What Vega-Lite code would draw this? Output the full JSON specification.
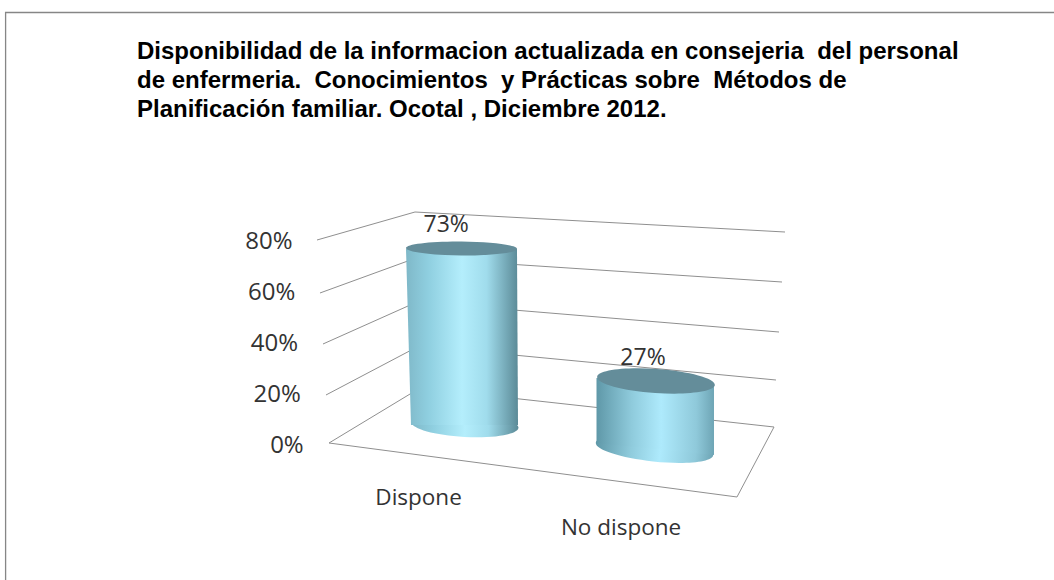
{
  "$schema": "https://vega.github.io/schema/vega-lite/v6.json",
  "width": 1054,
  "height": 580,
  "autosize": {"type": "none"},
  "padding": 0,
  "background": "white",
  "config": {"view": {"stroke": null}},
  "title": {
    "text": [
      "Disponibilidad de la informacion actualizada en consejeria\u00a0 del personal",
      "de enfermeria.\u00a0 Conocimientos\u00a0 y Prácticas sobre\u00a0 Métodos de",
      "Planificación familiar. Ocotal , Diciembre 2012."
    ],
    "anchor": "start",
    "frame": "group",
    "baseline": "alphabetic",
    "font": "Liberation Sans",
    "fontSize": 24,
    "fontWeight": "bold",
    "color": "#000000",
    "lineHeight": 29,
    "offset": 0,
    "dx": 137,
    "dy": 141
  },
  "datasets": {
    "marco": [
      {"o": 1, "px": -72.9, "py": -52.94},
      {"o": 2, "px": -72.9, "py": 169.6},
      {"o": 3, "px": 162.7, "py": 169.6}
    ],
    "reticula": [
      {"serie": "80%", "o": 1, "px": -2.92, "py": 80.39},
      {"serie": "80%", "o": 2, "px": 19.1, "py": 91.37},
      {"serie": "80%", "o": 3, "px": 102.25, "py": 83.53},
      {"serie": "60%", "o": 1, "px": -2.25, "py": 59.61},
      {"serie": "60%", "o": 2, "px": 19.33, "py": 73.33},
      {"serie": "60%", "o": 3, "px": 101.57, "py": 63.92},
      {"serie": "40%", "o": 1, "px": -1.57, "py": 39.61},
      {"serie": "40%", "o": 2, "px": 19.55, "py": 56.08},
      {"serie": "40%", "o": 3, "px": 100.9, "py": 44.31},
      {"serie": "20%", "o": 1, "px": -0.9, "py": 19.61},
      {"serie": "20%", "o": 2, "px": 20, "py": 38.82},
      {"serie": "20%", "o": 3, "px": 100.22, "py": 25.49},
      {"serie": "0%", "o": 1, "px": -0.22, "py": 0.78},
      {"serie": "0%", "o": 2, "px": 20.22, "py": 22.35},
      {"serie": "0%", "o": 3, "px": 99.78, "py": 7.06},
      {"serie": "0%", "o": 4, "px": 91.46, "py": -20.39},
      {"serie": "0%", "o": 5, "px": -0.22, "py": 0.78}
    ],
    "cuerpo_dispone": [
      {"py": 76.86, "izq": 17.08, "der": 42.02},
      {"py": 7.84, "izq": 18.2, "der": 42.25}
    ],
    "cuerpo_no": [
      {"px": 59.89, "arriba": 26.27, "abajo": 0.78},
      {"px": 86.29, "arriba": 23.14, "abajo": -3.92}
    ],
    "etiquetas": [
      {"categoria": "Dispone", "valor": 0.73, "vx": 26.1, "vy": 86.3, "cx": 19.9, "cy": -20.6},
      {"categoria": "No dispone", "valor": 0.27, "vx": 70.34, "vy": 34.3, "cx": 65.4, "cy": -32.5}
    ]
  },
  "layer": [
    {
      "data": {"name": "marco"},
      "mark": {"type": "line", "stroke": "#868686", "strokeWidth": 1.3},
      "encoding": {
        "x": {"field": "px", "type": "quantitative", "scale": {"domain": [-74.157, 162.697], "nice": false, "zero": false}, "axis": null},
        "y": {
          "field": "py",
          "type": "quantitative",
          "scale": {"domain": [-52.94, 174.51], "nice": false, "zero": false},
          "axis": {
            "values": [0, 20, 40, 60, 80],
            "labelExpr": "datum.value + '%'",
            "title": null,
            "domain": false,
            "ticks": false,
            "grid": false,
            "labelFont": "Open Sans",
            "labelFontSize": 24,
            "labelColor": "#333333",
            "labelPadding": 0,
            "offset": -292,
            "encoding": {"labels": {"dx": {"value": {"expr": "(80 - datum.value) * 0.14"}}}}
          }
        },
        "order": {"field": "o", "type": "quantitative"}
      }
    },
    {
      "data": {"name": "reticula"},
      "mark": {"type": "line", "stroke": "#8f8f8f", "strokeWidth": 1},
      "encoding": {
        "x": {"field": "px", "type": "quantitative"},
        "y": {"field": "py", "type": "quantitative"},
        "detail": {"field": "serie"},
        "order": {"field": "o", "type": "quantitative"}
      }
    },
    {
      "data": {"values": [{"categoria": "Dispone", "px": 30.34, "py": 7.84}]},
      "mark": {
        "type": "point", "filled": true, "opacity": 1, "strokeWidth": 0, "size": 11449, "angle": 3,
        "shape": "M-1,0A1,0.224,0,1,1,1,0A1,0.224,0,1,1,-1,0Z",
        "fill": {"gradient": "linear", "x1": 0, "x2": 1, "y1": 0, "y2": 0, "stops": [
          {"offset": 0, "color": "#7fb8c8"}, {"offset": 0.2, "color": "#8fcfe0"}, {"offset": 0.5, "color": "#b4eefc"}, {"offset": 0.72, "color": "#a0dcec"}, {"offset": 1, "color": "#5b8a97"}
        ]}
      },
      "encoding": {"x": {"field": "px", "type": "quantitative"}, "y": {"field": "py", "type": "quantitative"}}
    },
    {
      "data": {"name": "cuerpo_dispone"},
      "mark": {
        "type": "area", "orient": "horizontal", "opacity": 1,
        "fill": {"gradient": "linear", "x1": 0, "x2": 1, "y1": 0, "y2": 0, "stops": [
          {"offset": 0, "color": "#7fb8c8"}, {"offset": 0.2, "color": "#8fcfe0"}, {"offset": 0.5, "color": "#b4eefc"}, {"offset": 0.72, "color": "#a0dcec"}, {"offset": 1, "color": "#5b8a97"}
        ]}
      },
      "encoding": {
        "y": {"field": "py", "type": "quantitative"},
        "x": {"field": "izq", "type": "quantitative"},
        "x2": {"field": "der"}
      }
    },
    {
      "data": {"values": [{"categoria": "Dispone", "px": 29.55, "py": 77.06}]},
      "mark": {
        "type": "point", "filled": true, "opacity": 1, "strokeWidth": 0, "size": 12321, "angle": 0.5, "fill": "#648d9a",
        "shape": "M-1,0A1,0.126,0,1,1,1,0A1,0.126,0,1,1,-1,0Z"
      },
      "encoding": {"x": {"field": "px", "type": "quantitative"}, "y": {"field": "py", "type": "quantitative"}}
    },
    {
      "data": {"values": [{"categoria": "No dispone", "px": 72.92, "py": -1.57}]},
      "mark": {
        "type": "point", "filled": true, "opacity": 1, "strokeWidth": 0, "size": 13924, "angle": 6,
        "shape": "M-1,0A1,0.212,0,1,1,1,0A1,0.212,0,1,1,-1,0Z",
        "fill": {"gradient": "linear", "x1": 0, "x2": 1, "y1": 0, "y2": 0, "stops": [
          {"offset": 0, "color": "#5f98a8"}, {"offset": 0.3, "color": "#8fcbdc"}, {"offset": 0.55, "color": "#aeeafc"}, {"offset": 0.85, "color": "#8fc9da"}, {"offset": 1, "color": "#6ea5b5"}
        ]}
      },
      "encoding": {"x": {"field": "px", "type": "quantitative"}, "y": {"field": "py", "type": "quantitative"}}
    },
    {
      "data": {"name": "cuerpo_no"},
      "mark": {
        "type": "area", "orient": "vertical", "opacity": 1,
        "fill": {"gradient": "linear", "x1": 0, "x2": 1, "y1": 0, "y2": 0, "stops": [
          {"offset": 0, "color": "#5f98a8"}, {"offset": 0.3, "color": "#8fcbdc"}, {"offset": 0.55, "color": "#aeeafc"}, {"offset": 0.85, "color": "#8fc9da"}, {"offset": 1, "color": "#6ea5b5"}
        ]}
      },
      "encoding": {
        "x": {"field": "px", "type": "quantitative"},
        "y": {"field": "arriba", "type": "quantitative"},
        "y2": {"field": "abajo"}
      }
    },
    {
      "data": {"values": [{"categoria": "No dispone", "px": 73.26, "py": 25.1}]},
      "mark": {
        "type": "point", "filled": true, "opacity": 1, "strokeWidth": 0, "size": 13924, "angle": 4, "fill": "#648d9a",
        "shape": "M-1,0A1,0.203,0,1,1,1,0A1,0.203,0,1,1,-1,0Z"
      },
      "encoding": {"x": {"field": "px", "type": "quantitative"}, "y": {"field": "py", "type": "quantitative"}}
    },
    {
      "data": {"name": "etiquetas"},
      "mark": {"type": "text", "font": "Open Sans", "fontSize": 23, "color": "#333333", "align": "center", "baseline": "middle"},
      "encoding": {
        "x": {"field": "vx", "type": "quantitative"},
        "y": {"field": "vy", "type": "quantitative"},
        "text": {"field": "valor", "type": "quantitative", "format": ".0%"}
      }
    },
    {
      "data": {"name": "etiquetas"},
      "mark": {"type": "text", "font": "Open Sans", "fontSize": 22.5, "color": "#333333", "align": "center", "baseline": "middle"},
      "encoding": {
        "x": {"field": "cx", "type": "quantitative"},
        "y": {"field": "cy", "type": "quantitative"},
        "text": {"field": "categoria"}
      }
    }
  ]
}
